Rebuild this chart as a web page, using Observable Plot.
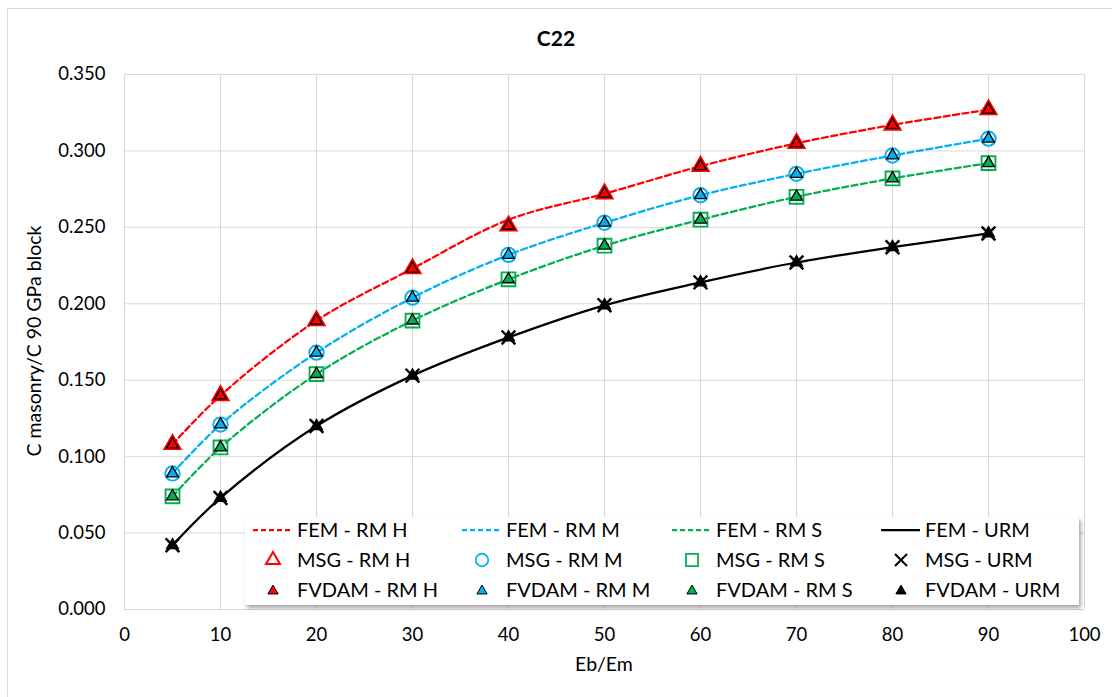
<!DOCTYPE html>
<html><head><meta charset="utf-8">
<script src="https://cdn.jsdelivr.net/npm/d3@7"></script>
<script src="https://cdn.jsdelivr.net/npm/@observablehq/plot@0.6"></script>
<style>
body{margin:0;background:#fff;}
#wrap{position:relative;width:1112px;height:697px;overflow:hidden;font-family:Lato,"Noto Sans",sans-serif;color:#000;background:#fff;}
#border{position:absolute;left:7px;top:8px;width:1120px;height:700px;border:1px solid #d9d9d9;box-sizing:border-box;}
#title{position:absolute;left:0;top:25px;width:1112px;text-align:center;font-weight:bold;font-size:21px;line-height:26px;}
#ylab{position:absolute;left:33px;top:341px;transform:translate(-50%,-50%) rotate(-90deg);font-size:19.5px;white-space:nowrap;}
#xlab{position:absolute;left:604px;top:663px;transform:translate(-50%,-50%);font-size:19.5px;white-space:nowrap;}
#legend{position:absolute;left:245px;top:517px;width:834px;height:88px;background:#fff;box-shadow:2px 3px 4px rgba(0,0,0,0.35);}
#legend svg{position:absolute;left:0;top:0;}
#chart{position:absolute;left:0;top:0;}
</style></head><body>
<div id="wrap"><div id="border"></div><div id="chart"></div><div id="title">C22</div>
<div id="ylab">C masonry/C 90 GPa block</div><div id="xlab">Eb/Em</div><div id="legend"></div></div>
<script>
// Data
const ebEm = [5, 10, 20, 30, 40, 50, 60, 70, 80, 90];
const femRmH   = [0.108, 0.140, 0.189, 0.223, 0.255, 0.272, 0.290, 0.305, 0.317, 0.327];
const femRmM   = [0.089, 0.121, 0.168, 0.204, 0.232, 0.253, 0.271, 0.285, 0.297, 0.308];
const femRmS   = [0.074, 0.106, 0.154, 0.189, 0.216, 0.238, 0.255, 0.270, 0.282, 0.292];
const femUrm   = [0.042, 0.073, 0.120, 0.153, 0.178, 0.199, 0.214, 0.227, 0.237, 0.246];
const msgRmH   = [0.108, 0.140, 0.189, 0.223, 0.251, 0.272, 0.290, 0.305, 0.317, 0.327];
const msgRmM   = [0.089, 0.121, 0.168, 0.204, 0.232, 0.253, 0.271, 0.285, 0.297, 0.308];
const msgRmS   = [0.074, 0.106, 0.154, 0.189, 0.216, 0.238, 0.255, 0.270, 0.282, 0.292];
const msgUrm   = [0.042, 0.073, 0.120, 0.153, 0.178, 0.199, 0.214, 0.227, 0.237, 0.246];
const fvdamRmH = [0.108, 0.140, 0.189, 0.223, 0.251, 0.272, 0.290, 0.305, 0.317, 0.327];
const fvdamRmM = [0.089, 0.121, 0.168, 0.204, 0.232, 0.253, 0.271, 0.285, 0.297, 0.308];
const fvdamRmS = [0.074, 0.106, 0.154, 0.189, 0.216, 0.238, 0.255, 0.270, 0.282, 0.292];
const fvdamUrm = [0.042, 0.073, 0.120, 0.153, 0.178, 0.199, 0.214, 0.227, 0.237, 0.246];
const xTicks = [0, 10, 20, 30, 40, 50, 60, 70, 80, 90, 100];
const yTicks = [0, 0.05, 0.10, 0.15, 0.20, 0.25, 0.30, 0.35];

const RED = "#ff0000", BLUE = "#00b0f0", GREEN = "#00b050", BLACK = "#000000";
const rows = arr => ebEm.map((x, i) => ({x, y: arr[i]}));
const dash = "6,3.5";

const lineOpts = (stroke, dashed) => ({x: "x", y: "y", stroke, strokeWidth: 2.25, curve: "catmull-rom", strokeDasharray: dashed ? dash : null});
const msgOpts = (symbol, stroke, r, sw) => ({x: "x", y: "y", symbol, r, stroke, fill: "none", strokeWidth: sw});
const fvOpts = (fill) => ({x: "x", y: "y", symbol: "triangle", r: 4.4, fill, stroke: BLACK, strokeWidth: 1.3});

const chart = Plot.plot({
  width: 1112, height: 697,
  marginLeft: 124, marginRight: 28, marginTop: 74, marginBottom: 88,
  style: {fontFamily: "Lato, 'Noto Sans', sans-serif", fontSize: "18.5px", color: "#000", background: "transparent"},
  x: {domain: [0, 100]},
  y: {domain: [0, 0.35]},
  marks: [
    Plot.gridX(xTicks, {stroke: "#d9d9d9", strokeOpacity: 1, strokeWidth: 1}),
    Plot.gridY(yTicks, {stroke: "#d9d9d9", strokeOpacity: 1, strokeWidth: 1}),
    Plot.axisX(xTicks, {tickSize: 0, tickPadding: 18, label: null, fill: "#000"}),
    Plot.axisY(yTicks, {tickSize: 0, tickPadding: 19, label: null, tickFormat: d3.format(".3f"), fill: "#000"}),
    Plot.line(rows(femRmH), lineOpts(RED, true)),
    Plot.line(rows(femRmM), lineOpts(BLUE, true)),
    Plot.line(rows(femRmS), lineOpts(GREEN, true)),
    Plot.line(rows(femUrm), lineOpts(BLACK, false)),
    Plot.dot(rows(msgRmH), msgOpts("triangle", RED, 5.9, 2.2)),
    Plot.dot(rows(msgRmM), msgOpts("circle", BLUE, 7.2, 1.9)),
    Plot.dot(rows(msgRmS), msgOpts("square", GREEN, 7.8, 1.9)),
    Plot.dot(rows(msgUrm), msgOpts("times", BLACK, 6.3, 2.4)),
    Plot.dot(rows(fvdamRmH), fvOpts(RED)),
    Plot.dot(rows(fvdamRmM), fvOpts(BLUE)),
    Plot.dot(rows(fvdamRmS), fvOpts(GREEN)),
    Plot.dot(rows(fvdamUrm), fvOpts(BLACK))
  ]
});
document.getElementById("chart").appendChild(chart);

// Legend
const legendCols = [
  {color: RED, fem: "FEM - RM H", msg: "MSG - RM H", fv: "FVDAM - RM H", sym: d3.symbolTriangle, r: 5.2, sw: 2, dashed: true},
  {color: BLUE, fem: "FEM - RM M", msg: "MSG - RM M", fv: "FVDAM - RM M", sym: d3.symbolCircle, r: 6.3, sw: 1.75, dashed: true},
  {color: GREEN, fem: "FEM - RM S", msg: "MSG - RM S", fv: "FVDAM - RM S", sym: d3.symbolSquare, r: 6.8, sw: 1.75, dashed: true},
  {color: BLACK, fem: "FEM - URM", msg: "MSG - URM", fv: "FVDAM - URM", sym: d3.symbolTimes, r: 5.5, sw: 2, dashed: false}
];
const colX = [0, 209, 419, 628];
const rowY = [13, 43, 73];
const lsvg = d3.select("#legend").append("svg").attr("width", 834).attr("height", 88)
  .style("font-family", "Lato, 'Noto Sans', sans-serif").style("font-size", "20px");
legendCols.forEach((c, i) => {
  const g = lsvg.append("g").attr("transform", `translate(${colX[i]},0)`);
  g.append("line").attr("x1", 8).attr("x2", 47).attr("y1", rowY[0]).attr("y2", rowY[0])
    .attr("stroke", c.color).attr("stroke-width", 2.25).attr("stroke-dasharray", c.dashed ? "5,3" : null);
  g.append("path").attr("transform", `translate(28,${rowY[1]})`)
    .attr("d", d3.symbol(c.sym, Math.PI * c.r * c.r)())
    .attr("fill", "none").attr("stroke", c.color).attr("stroke-width", c.sw);
  g.append("path").attr("transform", `translate(28,${rowY[2] + 1})`)
    .attr("d", d3.symbol(d3.symbolTriangle, Math.PI * 3.8 * 3.8)())
    .attr("fill", c.color).attr("stroke", BLACK).attr("stroke-width", 1);
  [c.fem, c.msg, c.fv].forEach((t, j) => {
    g.append("text").attr("x", 52).attr("y", rowY[j]).attr("dy", "0.36em").text(t);
  });
});
</script></body></html>
